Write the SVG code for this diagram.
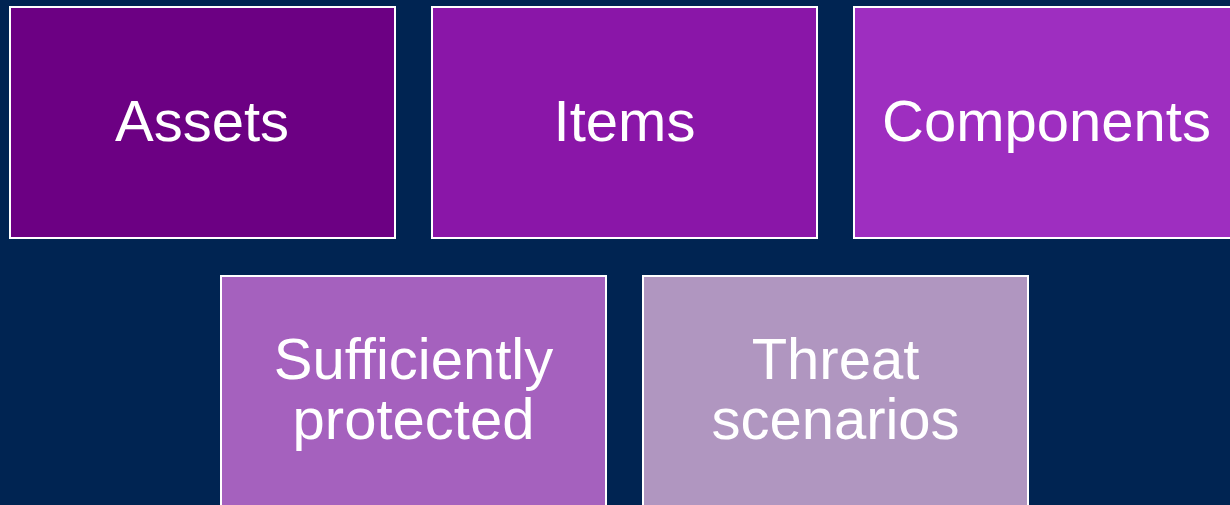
<svg xmlns="http://www.w3.org/2000/svg" width="1230" height="505" viewBox="0 0 1230 505">
  <style>
    .box { stroke: #ffffff; stroke-width: 2; }
    .label { fill: #ffffff; font-family: "Liberation Sans", Arial, sans-serif; font-size: 58px; text-anchor: middle; }
  </style>
  <rect width="1230" height="505" fill="#002452"/>
  <g id="assets">
    <rect class="box" x="10" y="7" width="385" height="231" fill="#6c0083"/>
    <text class="label" x="202" y="141">Assets</text>
  </g>
  <g id="items">
    <rect class="box" x="432" y="7" width="385" height="231" fill="#8a16a8"/>
    <text class="label" x="624.5" y="141">Items</text>
  </g>
  <g id="components">
    <rect class="box" x="854" y="7" width="385" height="231" fill="#9e2ec0"/>
    <text class="label" x="1046.5" y="141">Components</text>
  </g>
  <g id="sufficiently-protected">
    <rect class="box" x="221" y="276" width="385" height="240" fill="#a561be"/>
    <text class="label" x="413.5" y="379">Sufficiently</text>
    <text class="label" x="413.5" y="439">protected</text>
  </g>
  <g id="threat-scenarios">
    <rect class="box" x="643" y="276" width="385" height="240" fill="#b096c0"/>
    <text class="label" x="835.5" y="379">Threat</text>
    <text class="label" x="835.5" y="439">scenarios</text>
  </g>
  <g id="connectors"/>
</svg>
